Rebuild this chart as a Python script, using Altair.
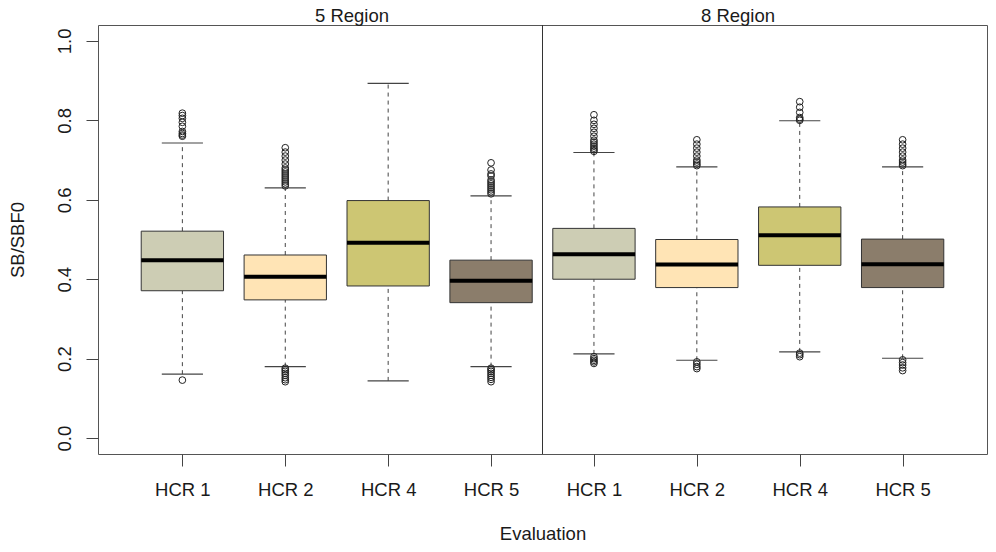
import json
import altair as alt
import pandas as pd

# ---- data ----
regions = ["5 Region"] * 4 + ["8 Region"] * 4
hcrs = ["HCR 1", "HCR 2", "HCR 4", "HCR 5"] * 2
position = [1, 2, 3, 4, 5, 6, 7, 8]
lower_whisker = [0.161, 0.180, 0.144, 0.180, 0.212, 0.196, 0.217, 0.201]
q1 = [0.371, 0.348, 0.383, 0.341, 0.400, 0.379, 0.435, 0.379]
median = [0.448, 0.406, 0.492, 0.396, 0.463, 0.437, 0.511, 0.438]
q3 = [0.521, 0.461, 0.598, 0.448, 0.528, 0.500, 0.582, 0.501]
upper_whisker = [0.743, 0.630, 0.893, 0.610, 0.719, 0.683, 0.799, 0.683]
outliers = [
    [0.760, 0.763, 0.767, 0.772, 0.785, 0.795, 0.805, 0.812, 0.818, 0.146],
    [0.635, 0.640, 0.645, 0.650, 0.655, 0.660, 0.665, 0.670, 0.675, 0.680,
     0.690, 0.700, 0.710, 0.720, 0.731,
     0.176, 0.172, 0.168, 0.163, 0.158, 0.152, 0.147, 0.142],
    [],
    [0.615, 0.620, 0.625, 0.630, 0.635, 0.640, 0.645, 0.650, 0.660, 0.665,
     0.675, 0.693,
     0.176, 0.172, 0.168, 0.163, 0.158, 0.153, 0.148, 0.142],
    [0.722, 0.726, 0.730, 0.735, 0.740, 0.745, 0.750, 0.760, 0.770, 0.780,
     0.790, 0.800, 0.814,
     0.205, 0.200, 0.196, 0.192, 0.188],
    [0.686, 0.690, 0.695, 0.700, 0.710, 0.720, 0.730, 0.740, 0.751,
     0.192, 0.186, 0.180, 0.175],
    [0.800, 0.803, 0.807, 0.820, 0.833, 0.847, 0.214, 0.210, 0.205],
    [0.686, 0.690, 0.695, 0.700, 0.710, 0.720, 0.730, 0.740, 0.751,
     0.197, 0.190, 0.184, 0.177, 0.170],
]
box_colors = ["#CDCDB4", "#FFE4B5", "#CDC673", "#8B7D6B"]
panel_titles = ["5 Region", "8 Region"]
x_title = "Evaluation"
y_title = "SB/SBF0"
y_ticks = [0.0, 0.2, 0.4, 0.6, 0.8, 1.0]

# ---- tables ----
stats = pd.DataFrame({
    "region": regions, "hcr": hcrs, "pos": position,
    "lw": lower_whisker, "q1": q1, "med": median, "q3": q3, "uw": upper_whisker,
})
out_rows = []
for p, vals in zip(position, outliers):
    for v in vals:
        out_rows.append({"pos": p, "val": v})
out_df = pd.DataFrame(out_rows)

FONT = "Liberation Sans"
TXT = "#1a1a1a"
LINE = "#444444"
W, H = 889, 429

xscale = alt.Scale(domain=[0.18, 8.82], nice=False, zero=False)
yscale = alt.Scale(domain=[-0.04, 1.04], nice=False, zero=False)

label_expr = json.dumps(hcrs) + "[datum.value - 1]"

xaxis = alt.Axis(
    values=position, labelExpr=label_expr, title=x_title, domain=False,
    grid=False, tickSize=12, tickColor=LINE, labelPadding=29,
    labelBaseline="alphabetic", labelFont=FONT, labelFontSize=18.5,
    labelColor=TXT, titleFont=FONT, titleFontSize=18.5, titleFontWeight="normal",
    titleColor=TXT, titleBaseline="alphabetic", titleY=85,
)
yaxis = alt.Axis(
    values=y_ticks, format=".1f", title=y_title, domain=False, grid=False,
    tickSize=12, tickColor=LINE, labelPadding=16, labelAngle=-90,
    labelAlign="center", labelBaseline="alphabetic", labelFont=FONT,
    labelFontSize=18.5, labelColor=TXT, titleFont=FONT, titleFontSize=18.5,
    titleFontWeight="normal", titleColor=TXT, titleAngle=-90,
    titleAlign="center", titleBaseline="alphabetic", titleX=-75, titleY=H / 2,
)

base = alt.Chart(stats).transform_calculate(
    xl="datum.pos - 0.4", xr="datum.pos + 0.4",
    cl="datum.pos - 0.2", cr="datum.pos + 0.2",
)

whisk_lo = base.mark_rule(color=LINE, strokeDash=[4, 4], strokeWidth=1).encode(
    x=alt.X("pos:Q", scale=xscale, axis=xaxis),
    y=alt.Y("lw:Q", scale=yscale, axis=yaxis),
    y2="q1:Q",
)
whisk_hi = base.mark_rule(color=LINE, strokeDash=[4, 4], strokeWidth=1).encode(
    x=alt.X("pos:Q", scale=xscale), y=alt.Y("q3:Q", scale=yscale), y2="uw:Q",
)
cap_lo = base.mark_rule(color=LINE, strokeWidth=1.2).encode(
    x=alt.X("cl:Q", scale=xscale), x2="cr:Q", y=alt.Y("lw:Q", scale=yscale),
)
cap_hi = base.mark_rule(color=LINE, strokeWidth=1.2).encode(
    x=alt.X("cl:Q", scale=xscale), x2="cr:Q", y=alt.Y("uw:Q", scale=yscale),
)
boxes = base.mark_rect(stroke="#333333", strokeWidth=1).encode(
    x=alt.X("xl:Q", scale=xscale), x2="xr:Q",
    y=alt.Y("q1:Q", scale=yscale), y2="q3:Q",
    fill=alt.Fill("hcr:N", scale=alt.Scale(domain=hcrs[:4], range=box_colors),
                  legend=None),
)
meds = base.mark_rule(color="#000000", strokeWidth=4).encode(
    x=alt.X("xl:Q", scale=xscale), x2="xr:Q", y=alt.Y("med:Q", scale=yscale),
)
pts = alt.Chart(out_df).mark_point(
    shape="circle", filled=False, size=45, stroke="#222222", strokeWidth=1,
    opacity=1,
).encode(
    x=alt.X("pos:Q", scale=xscale), y=alt.Y("val:Q", scale=yscale),
)
divider = alt.Chart(pd.DataFrame({"x": [4.5]})).mark_rule(
    color="#333333", strokeWidth=1
).encode(
    x=alt.X("x:Q", scale=xscale), y=alt.value(0), y2=alt.value(H),
)
t1 = alt.Chart(pd.DataFrame({"t": [panel_titles[0]]})).mark_text(
    font=FONT, fontSize=18.5, color=TXT, align="center", baseline="alphabetic"
).encode(text="t:N", x=alt.value(254), y=alt.value(-3))
t2 = alt.Chart(pd.DataFrame({"t": [panel_titles[1]]})).mark_text(
    font=FONT, fontSize=18.5, color=TXT, align="center", baseline="alphabetic"
).encode(text="t:N", x=alt.value(640), y=alt.value(-3))

chart = alt.layer(
    whisk_lo, whisk_hi, cap_lo, cap_hi, boxes, meds, pts, divider, t1, t2
).properties(
    width=W, height=H,
    autosize=alt.AutoSizeParams(type="none"),
    padding={"left": 90, "top": 17, "right": 1, "bottom": 90},
).configure_view(
    stroke="#555555", strokeWidth=1
)

chart.save("out.html", embed_options={"renderer": "svg", "actions": False})
